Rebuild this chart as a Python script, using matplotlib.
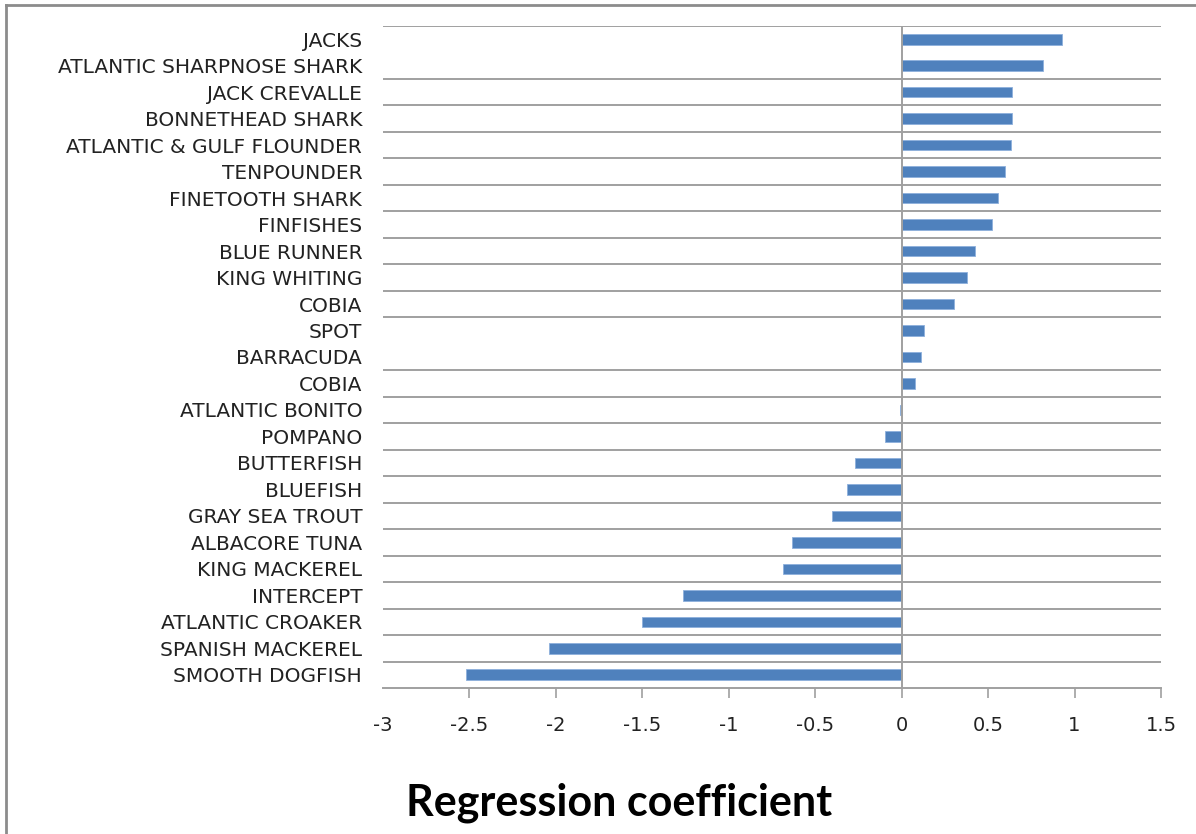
import matplotlib
matplotlib.use("Agg")
import matplotlib.pyplot as plt
from matplotlib.lines import Line2D
import numpy as np

categories = [
    "JACKS", "ATLANTIC SHARPNOSE SHARK", "JACK CREVALLE", "BONNETHEAD SHARK",
    "ATLANTIC & GULF FLOUNDER", "TENPOUNDER", "FINETOOTH SHARK", "FINFISHES",
    "BLUE RUNNER", "KING WHITING", "COBIA", "SPOT", "BARRACUDA", "COBIA",
    "ATLANTIC BONITO", "POMPANO", "BUTTERFISH", "BLUEFISH", "GRAY SEA TROUT",
    "ALBACORE TUNA", "KING MACKEREL", "INTERCEPT", "ATLANTIC CROAKER",
    "SPANISH MACKEREL", "SMOOTH DOGFISH",
]
coefficients = [
    0.93, 0.82, 0.64, 0.64, 0.635, 0.60, 0.56, 0.52, 0.425, 0.38, 0.305,
    0.128, 0.114, 0.075, -0.012, -0.097, -0.27, -0.315, -0.405, -0.635,
    -0.687, -1.265, -1.50, -2.04, -2.52,
]
xticks = [-3, -2.5, -2, -1.5, -1, -0.5, 0, 0.5, 1, 1.5]
xtick_labels = ["-3", "-2.5", "-2", "-1.5", "-1", "-0.5", "0", "0.5", "1", "1.5"]
xlabel = "Regression coefficient"

plt.rcParams["font.family"] = ["DejaVu Sans"]

W, H = 1196, 834
fig = plt.figure(figsize=(W / 100, H / 100), dpi=100)
ax = fig.add_axes([383 / W, 1 - 688 / H, (1161 - 383) / W, (688 - 26) / H])

n = len(categories)
y = np.arange(n)
ax.barh(y, coefficients, height=0.4, color="#4F81BD", edgecolor="#8DB0DC",
        linewidth=0.6, zorder=3)

ax.set_ylim(n - 0.5, -0.5)
ax.set_xlim(-3, 1.5)

# horizontal gridlines at category boundaries (two are absent in the reference)
missing = {0, 11}
bounds = [k + 0.5 for k in range(-1, n - 1) if k not in missing]
ax.set_yticks(bounds, minor=True)
ax.grid(True, axis="y", which="minor", color="#A0A0A0", linewidth=1.4, zorder=1)
ax.tick_params(axis="y", which="minor", length=0)

ax.set_yticks(y)
ax.set_yticklabels(categories, fontsize=14.5, color="#222222")
ax.tick_params(axis="y", which="major", length=0, pad=15)

ax.set_xticks(xticks)
ax.set_xticklabels(xtick_labels, fontsize=14, color="#222222")
ax.tick_params(axis="x", direction="out", length=7, width=1.2, color="#A0A0A0", pad=13)
ax.xaxis.get_major_ticks()[0].tick1line.set_visible(False)

ax.axvline(0, color="#A0A0A0", linewidth=1.4, zorder=4)

for s in ["top", "right", "left"]:
    ax.spines[s].set_visible(False)
ax.spines["bottom"].set_color("#A0A0A0")
ax.spines["bottom"].set_linewidth(1.4)

fig.text(619 / W, 1 - 803 / H, xlabel, ha="center", va="center",
         fontsize=31, fontweight="bold", family=["Lato", "DejaVu Sans"], color="black")

# outer chart frame (left and top edges visible)
fig.add_artist(Line2D([6 / W, 6 / W], [0, 1 - 5 / H], transform=fig.transFigure,
                      color="#8C8C8C", linewidth=2))
fig.add_artist(Line2D([6 / W, 1], [1 - 5 / H, 1 - 5 / H], transform=fig.transFigure,
                      color="#8C8C8C", linewidth=2))

fig.savefig("out.png", dpi=100)
